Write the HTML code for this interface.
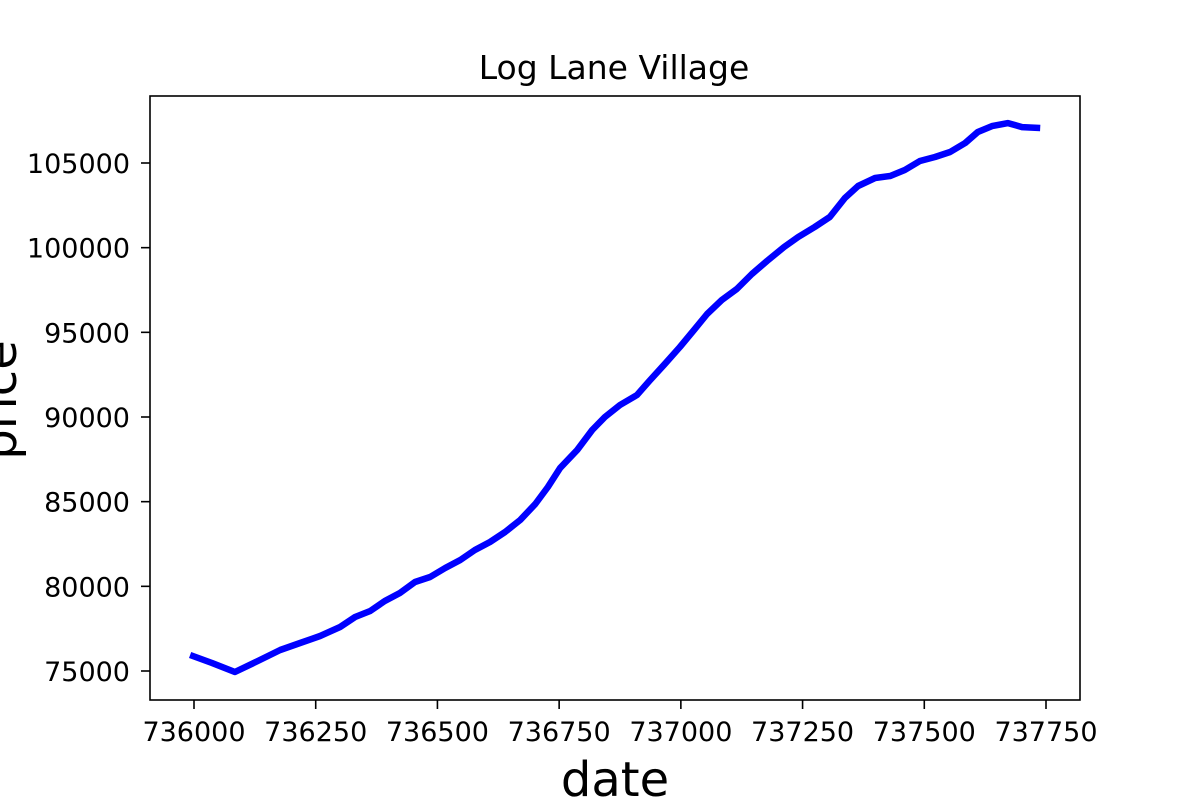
<!DOCTYPE html>
<html><head><meta charset="utf-8"><style>
body{margin:0;background:#fff;}
svg{display:block;font-family:"DejaVu Sans","Liberation Sans",sans-serif;}
</style></head><body>
<svg id="chart" width="1200" height="800">
<rect width="1200" height="800" fill="#fff"/>
<text x="614" y="79" font-size="33" text-anchor="middle">Log Lane Village</text>
<g id="yticks"></g><g id="xticks"></g>
<path id="line" fill="none" stroke="#0000ff" stroke-width="6.5" stroke-linejoin="round"/>
<rect x="150" y="96" width="930" height="604" fill="none" stroke="#000" stroke-width="1.6"/>
<text x="615" y="796" font-size="48" text-anchor="middle">date</text>
<text transform="translate(16,400) rotate(-90)" font-size="48" text-anchor="middle">price</text>
</svg>
<script>
const dates=[735992,736037,736084,736131,736177,736218,736259,736300,736331,736362,736392,736423,736454,736485,736516,736547,736577,736608,736639,736670,736701,736727,736752,736787,736818,736844,736875,736910,736937,736967,736998,737027,737054,737084,737115,737146,737177,737212,737241,737275,737306,737337,737364,737399,737430,737460,737491,737522,737553,737584,737610,737639,737672,737701,737738];
const prices=[75945,75472,74941,75590,76240,76653,77067,77598,78189,78543,79134,79606,80255,80551,81082,81555,82145,82617,83208,83917,84861,85865,86987,88050,89230,90000,90707,91298,92183,93128,94132,95136,96081,96908,97557,98443,99211,100037,100628,101218,101809,102931,103640,104112,104230,104584,105116,105352,105648,106179,106828,107182,107359,107123,107064];
const xTicks=[736000,736250,736500,736750,737000,737250,737500,737750];
const yTicks=[75000,80000,85000,90000,95000,100000,105000];
const ns="http://www.w3.org/2000/svg";
const xs=v=>194+(v-736000)*(1046-194)/1750;
const ys=v=>671-(v-75000)*(671-163)/30000;
const xg=document.getElementById('xticks'),yg=document.getElementById('yticks');
xTicks.forEach(t=>{
 const l=document.createElementNS(ns,'line');
 
 
 l.setAttribute('x1',xs(t));l.setAttribute('x2',xs(t));l.setAttribute('y1',700);l.setAttribute('y2',709);l.setAttribute('stroke','#000');l.setAttribute('stroke-width','1.6');
 xg.appendChild(l);
 const s=document.createElementNS(ns,'text');
 
 
 s.setAttribute('x',xs(t));s.setAttribute('y',741);s.setAttribute('font-size','27');s.setAttribute('text-anchor','middle');
 s.textContent=t;xg.appendChild(s);
});
yTicks.forEach(t=>{
 const l=document.createElementNS(ns,'line');
 
 
 l.setAttribute('x1',141);l.setAttribute('x2',150);l.setAttribute('y1',ys(t));l.setAttribute('y2',ys(t));l.setAttribute('stroke','#000');l.setAttribute('stroke-width','1.6');
 yg.appendChild(l);
 const s=document.createElementNS(ns,'text');
 
 
 s.setAttribute('x',130);s.setAttribute('y',ys(t)+10);s.setAttribute('font-size','27');s.setAttribute('text-anchor','end');
 s.textContent=t;yg.appendChild(s);
});
document.getElementById('line').setAttribute('d',dates.map((d,i)=>(i?'L':'M')+xs(d).toFixed(1)+' '+ys(prices[i]).toFixed(1)).join(' '));
</script>
</body></html>
